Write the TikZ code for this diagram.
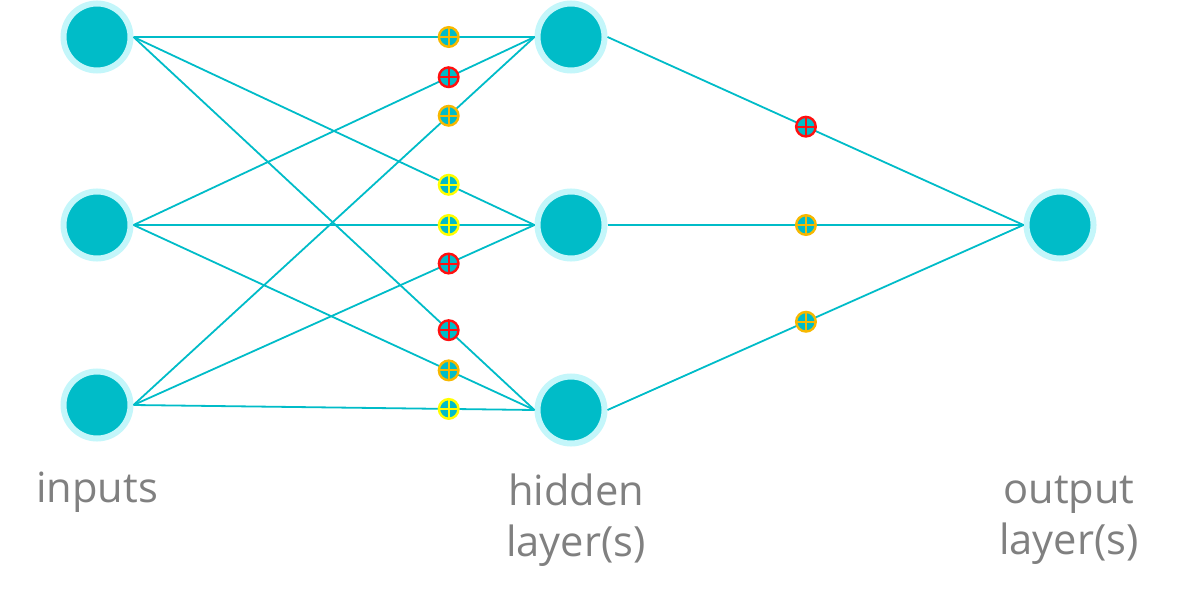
\documentclass[tikz,border=0pt]{standalone}
\usepackage{fontspec}
\setmainfont{Open Sans}
\usetikzlibrary{calc}

\definecolor{nncyan}{HTML}{00BCC8}
\definecolor{halo}{HTML}{C4F6FA}
\definecolor{ringgold}{HTML}{F7B800}
\definecolor{ringred}{HTML}{FF1010}
\definecolor{ringyellow}{HTML}{FFFF00}
\definecolor{labelgray}{HTML}{808080}

\tikzset{
  neuron/.style={circle, inner sep=0pt, minimum size=1.675cm,
    fill=nncyan, draw=halo, line width=0.15cm},
  link/.style={draw=nncyan, line width=0.045cm},
  wdot/.style={circle, inner sep=0pt, minimum size=0.49cm,
    fill=nncyan, draw=#1, line width=0.06cm,
    path picture={
      \draw[#1, line width=0.05cm]
        (path picture bounding box.north) -- (path picture bounding box.south)
        (path picture bounding box.west) -- (path picture bounding box.east);
    }},
  lbl/.style={text=labelgray, inner sep=0pt,
    font=\fontsize{29.6}{36.3}\selectfont}
}

\begin{document}
\begin{tikzpicture}[x=0.025cm, y=-0.025cm]
  \useasboundingbox (0,0) rectangle (1200,590);

  % neurons
  \node[neuron] (i1) at (97,37) {};
  \node[neuron] (i2) at (97,225) {};
  \node[neuron] (i3) at (97,405) {};
  \node[neuron] (h1) at (571,37) {};
  \node[neuron] (h2) at (571,225) {};
  \node[neuron] (h3) at (571,410) {};
  \node[neuron] (o1) at (1060,225) {};

  % input -> hidden connections
  \foreach \a in {1,2,3}{
    \foreach \b in {1,2,3}{
      \draw[link] (i\a.east) -- (h\b.west);
    }
  }
  % hidden -> output connections
  \foreach \b in {1,2,3}{
    \draw[link] (h\b.east) -- (o1.west);
  }

  % weights on input -> hidden connections
  \def\ta{0.786}
  \node[wdot=ringgold]   (w11) at ($(i1.east)!\ta!(h1.west)$) {};
  \node[wdot=ringred]    (w21) at ($(i2.east)!\ta!(h1.west)$) {};
  \node[wdot=ringgold]   (w31) at ($(i3.east)!\ta!(h1.west)$) {};
  \node[wdot=ringyellow] (w12) at ($(i1.east)!\ta!(h2.west)$) {};
  \node[wdot=ringyellow] (w22) at ($(i2.east)!\ta!(h2.west)$) {};
  \node[wdot=ringred]    (w32) at ($(i3.east)!\ta!(h2.west)$) {};
  \node[wdot=ringred]    (w13) at ($(i1.east)!\ta!(h3.west)$) {};
  \node[wdot=ringgold]   (w23) at ($(i2.east)!\ta!(h3.west)$) {};
  \node[wdot=ringyellow] (w33) at ($(i3.east)!\ta!(h3.west)$) {};

  % weights on hidden -> output connections
  \def\tb{0.477}
  \node[wdot=ringred]  (v1) at ($(h1.east)!\tb!(o1.west)$) {};
  \node[wdot=ringgold] (v2) at ($(h2.east)!\tb!(o1.west)$) {};
  \node[wdot=ringgold] (v3) at ($(h3.east)!\tb!(o1.west)$) {};

  % layer captions
  \node[lbl, anchor=base] (tin) at (97,502) {inputs};
  \node[lbl, align=center] (thid) at (576,520) {hidden\\layer(s)};
  \node[lbl, align=center] (tout) at (1069,520) {output\\layer(s)};
\end{tikzpicture}
\end{document}
